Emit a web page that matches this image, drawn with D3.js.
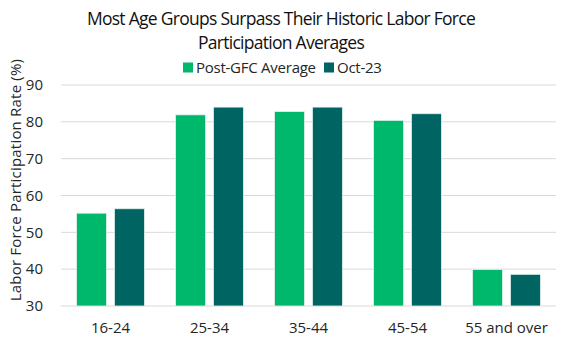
<!DOCTYPE html>
<html>
<head>
<meta charset="utf-8">
<script src="https://cdn.jsdelivr.net/npm/d3@7"></script>
<style>
  html, body { margin: 0; padding: 0; background: #fff; }
  svg { display: block; font-family: "Open Sans", sans-serif; }
</style>
</head>
<body>
<svg id="chart" width="581" height="350"></svg>
<script>
// Labor force participation rate (%) by age group
const categories = ["16-24", "25-34", "35-44", "45-54", "55 and over"];
const seriesNames = ["Post-GFC Average", "Oct-23"];
const postGfcAverage = [55.2, 81.9, 82.8, 80.4, 39.9];
const oct23 = [56.4, 84.0, 84.0, 82.2, 38.6];
const yTicks = [30, 40, 50, 60, 70, 80, 90];
const colors = ["#00B86C", "#006462"];

const titleLines = ["Most Age Groups Surpass Their Historic Labor Force", "Participation Averages"];
const yLabel = "Labor Force Participation Rate (%)";

const svg = d3.select("#chart");
const margin = { left: 61, right: 25, top: 85, bottom: 44 };
const width = 581, height = 350;
const textColor = "#262626";

const x = d3.scaleBand().domain(categories).range([margin.left, width - margin.right]).padding(0);
const y = d3.scaleLinear().domain([30, 90]).range([height - margin.bottom, margin.top]);

// gridlines
svg.append("g")
  .selectAll("line")
  .data(yTicks)
  .join("line")
  .attr("x1", margin.left)
  .attr("x2", width - margin.right)
  .attr("y1", d => y(d))
  .attr("y2", d => y(d))
  .attr("stroke", "#d9d9d9")
  .attr("stroke-width", 1);

// y axis tick labels
const yAxis = d3.axisLeft(y).tickValues(yTicks).tickSize(0).tickPadding(18);
svg.append("g")
  .attr("transform", `translate(${margin.left},0)`)
  .call(yAxis)
  .call(g => g.select(".domain").remove())
  .call(g => g.selectAll("text")
    .attr("font-family", "Open Sans, sans-serif")
    .attr("font-size", 15)
    .attr("fill", textColor));

// x axis labels
const xAxis = d3.axisBottom(x).tickSize(0).tickPadding(16);
svg.append("g")
  .attr("transform", `translate(0,${y(30)})`)
  .call(xAxis)
  .call(g => g.select(".domain").remove())
  .call(g => g.selectAll("text")
    .attr("font-family", "Open Sans, sans-serif")
    .attr("font-size", 15)
    .attr("fill", textColor));

// grouped bars
const inner = d3.scaleBand().domain(seriesNames).range([0, x.bandwidth()]).paddingInner(0.21).paddingOuter(0.41);
const rows = categories.map((c, i) => ({ cat: c, vals: [postGfcAverage[i], oct23[i]] }));

svg.append("g")
  .selectAll("g")
  .data(rows)
  .join("g")
  .attr("transform", d => `translate(${x(d.cat)},0)`)
  .selectAll("rect")
  .data(d => d.vals.map((v, j) => ({ name: seriesNames[j], v, j })))
  .join("rect")
  .attr("x", d => inner(d.name))
  .attr("width", inner.bandwidth())
  .attr("y", d => y(d.v))
  .attr("height", d => y(30) - y(d.v))
  .attr("fill", d => colors[d.j])
  .attr("stroke", "#e3f1ec")
  .attr("stroke-width", 0.8);

// title
svg.append("g")
  .selectAll("text")
  .data(titleLines)
  .join("text")
  .attr("x", 281)
  .attr("y", (d, i) => 25 + i * 23.5)
  .attr("text-anchor", "middle")
  .attr("font-size", 17.5)
  .attr("letter-spacing", -0.72)
  .attr("fill", "#111")
  .text(d => d);

// legend
const legendItems = [
  { name: seriesNames[0], x: 183 },
  { name: seriesNames[1], x: 324 }
];
const lg = svg.append("g").selectAll("g").data(legendItems).join("g")
  .attr("transform", d => `translate(${d.x},0)`);
lg.append("rect")
  .attr("x", 0).attr("y", 62.5).attr("width", 10).attr("height", 10)
  .attr("fill", (d, i) => colors[i]);
lg.append("text")
  .attr("x", 13).attr("y", 72.5)
  .attr("font-size", 15)
  .attr("letter-spacing", -0.25)
  .attr("fill", textColor)
  .text(d => d.name);

// y axis title
svg.append("text")
  .attr("transform", `translate(21,180) rotate(-90)`)
  .attr("text-anchor", "middle")
  .attr("font-size", 15)
  .attr("letter-spacing", 0.2)
  .attr("fill", textColor)
  .text(yLabel);
</script>
</body>
</html>
